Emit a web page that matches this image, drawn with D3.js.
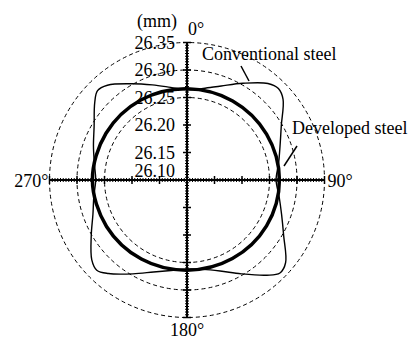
<!DOCTYPE html>
<html>
<head>
<meta charset="utf-8">
<script src="https://cdn.jsdelivr.net/npm/d3@7"></script>
<style>
  body { margin: 0; background: #fff; }
</style>
</head>
<body>
<svg id="chart" width="408" height="339"></svg>
<script>
// angles in degrees (0 = top, clockwise), diameter in mm
const convAngles = [0, 10, 20, 30, 40, 45, 50, 60, 70, 80, 90, 100, 110, 120, 130, 135, 140, 150, 160, 170,
  180, 190, 200, 210, 220, 225, 230, 240, 250, 260, 270, 280, 290, 300, 310, 315, 320, 330, 340, 350];
const convValues = [26.264, 26.269, 26.282, 26.303, 26.329, 26.335, 26.328, 26.298, 26.280, 26.269,
  26.262, 26.270, 26.283, 26.303, 26.334, 26.339, 26.326, 26.297, 26.276, 26.265,
  26.262, 26.267, 26.278, 26.297, 26.322, 26.332, 26.326, 26.301, 26.282, 26.272,
  26.266, 26.271, 26.281, 26.295, 26.319, 26.330, 26.325, 26.302, 26.284, 26.271];

const devAngles = [0, 30, 60, 90, 120, 150, 180, 210, 240, 270, 300, 330];
const devValues = [26.266, 26.266, 26.267, 26.268, 26.267, 26.265, 26.264, 26.266, 26.269, 26.272, 26.270, 26.268];

const gridValues = [26.25, 26.30, 26.35];
const tickLabels = ["26.10", "26.15", "26.20", "26.25", "26.30", "26.35"];
const angleLabels = ["0°", "90°", "180°", "270°"];

const cx = 187, cy = 180, R = 137.5;
const svg = d3.select("#chart")
  .attr("font-family", "'Liberation Serif', 'Times New Roman', 'DejaVu Serif', serif")
  .attr("font-size", 18);
const g = svg.append("g").attr("transform", `translate(${cx},${cy})`);

const r = d3.scaleLinear().domain([26.10, 26.35]).range([0, R]);
const rad = d => d * Math.PI / 180;

// dashed reference circles
g.selectAll("circle.grid")
  .data(gridValues)
  .enter()
  .append("circle")
  .attr("class", "grid")
  .attr("r", d => r(d))
  .attr("fill", "none")
  .attr("stroke", "#000")
  .attr("stroke-width", 1)
  .attr("stroke-dasharray", "4,3");

// axes with ticks
const minorTicks = d3.range(26.10, 26.3501, 0.005).slice(1);
const majorTicks = tickLabels.map(Number).slice(1);
[0, 90, 180, 270].forEach(a => {
  const ax = g.append("g").attr("transform", `rotate(${a})`);
  ax.append("line")
    .attr("x1", 0).attr("y1", 0)
    .attr("x2", 0).attr("y2", -r(26.35))
    .attr("stroke", "#000").attr("stroke-width", 2);
  ax.selectAll("line.minor")
    .data(minorTicks)
    .enter()
    .append("line")
    .attr("class", "minor")
    .attr("x1", -2).attr("x2", 2)
    .attr("y1", d => -r(d)).attr("y2", d => -r(d))
    .attr("stroke", "#000").attr("stroke-width", 1);
  ax.selectAll("line.major")
    .data(majorTicks)
    .enter()
    .append("line")
    .attr("class", "major")
    .attr("x1", -4).attr("x2", 4)
    .attr("y1", d => -r(d)).attr("y2", d => -r(d))
    .attr("stroke", "#000").attr("stroke-width", 1.5);
});

// radial tick labels
g.selectAll("text.tick")
  .data(tickLabels)
  .enter()
  .append("text")
  .attr("class", "tick")
  .attr("text-anchor", "end")
  .attr("x", -12)
  .attr("y", d => d === "26.10" ? -3 : -r(+d) + 6)
  .text(d => d);

// curves
const line = d3.lineRadial()
  .angle(d => rad(d[0]))
  .radius(d => r(d[1]))
  .curve(d3.curveCatmullRomClosed);

g.append("path")
  .datum(d3.zip(devAngles, devValues))
  .attr("d", line)
  .attr("fill", "none")
  .attr("stroke", "#000")
  .attr("stroke-width", 3.5);

g.append("path")
  .datum(d3.zip(convAngles, convValues))
  .attr("d", line)
  .attr("fill", "none")
  .attr("stroke", "#000")
  .attr("stroke-width", 1.4);

// angle labels
g.append("text").attr("x", 1).attr("y", -R - 8).text(angleLabels[0]);
g.append("text").attr("x", R + 3).attr("y", 7).text(angleLabels[1]);
g.append("text").attr("text-anchor", "middle").attr("x", 0).attr("y", R + 18).text(angleLabels[2]);
g.append("text").attr("text-anchor", "end").attr("x", -R - 1).attr("y", 7).text(angleLabels[3]);
g.append("text").attr("x", -50).attr("y", -R - 16).text("(mm)");

// series labels with leaders
svg.append("text").attr("x", 202).attr("y", 60).text("Conventional steel");
svg.append("line").attr("x1", 241).attr("y1", 66).attr("x2", 249).attr("y2", 81)
  .attr("stroke", "#000").attr("stroke-width", 1.5);
svg.append("text").attr("x", 292).attr("y", 134).text("Developed steel");
svg.append("line").attr("x1", 297).attr("y1", 146).attr("x2", 284).attr("y2", 166)
  .attr("stroke", "#000").attr("stroke-width", 1.5);
</script>
</body>
</html>
